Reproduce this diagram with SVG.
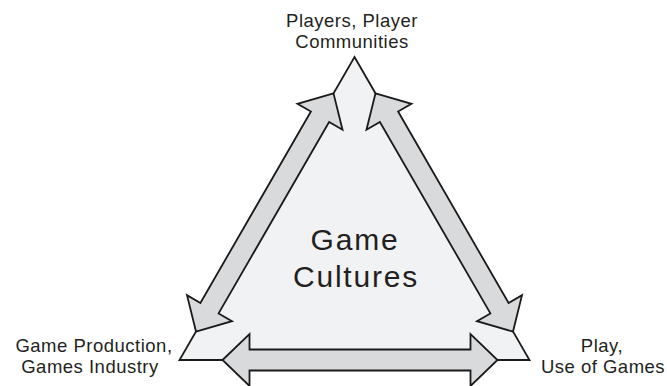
<svg xmlns="http://www.w3.org/2000/svg" xmlns:xlink="http://www.w3.org/1999/xlink" width="667" height="386" viewBox="0 0 667 386">
  <style>
    .tri { fill: #f1f2f3; stroke: #1a1a1a; stroke-width: 1.8; stroke-linejoin: miter; }
    .arrow { fill: #d9dadc; stroke: #1a1a1a; stroke-width: 1.8; stroke-linejoin: miter; }
    .lbl { font-family: "Liberation Sans", Arial, sans-serif; font-size: 18.5px; letter-spacing: 0.5px; fill: #231f20; text-anchor: middle; }
    .big { font-family: "Liberation Sans", Arial, sans-serif; font-size: 30px; letter-spacing: 1.8px; fill: #231f20; text-anchor: middle; }
  </style>
  <defs>
    <polygon id="dblArrow" class="arrow" points="0,0 27,-26 27,-10.5 248,-10.5 248,-26 275,0 248,26 248,10.5 27,10.5 27,26"/>
  </defs>

  <g id="game-cultures">
    <polygon class="tri" points="354.5,57 529.5,360 179.5,360"/>
  </g>

  <g id="connectors">
    <use xlink:href="#dblArrow" href="#dblArrow" transform="translate(333.5,93.4) rotate(120)"/>
    <use xlink:href="#dblArrow" href="#dblArrow" transform="translate(375.5,93.4) rotate(60)"/>
    <use xlink:href="#dblArrow" href="#dblArrow" transform="translate(222.5,360)"/>
  </g>

  <g id="center-label">
    <text class="big" x="355" y="250">Game</text>
    <text class="big" x="356" y="287">Cultures</text>
  </g>

  <g id="players">
    <text class="lbl" x="352" y="26.5">Players, Player</text>
    <text class="lbl" x="352" y="48">Communities</text>
  </g>

  <g id="production">
    <text class="lbl" x="94" y="351.5">Game Production,</text>
    <text class="lbl" x="90" y="373">Games Industry</text>
  </g>

  <g id="play">
    <text class="lbl" x="602" y="351.5">Play,</text>
    <text class="lbl" x="603" y="373">Use of Games</text>
  </g>
</svg>
